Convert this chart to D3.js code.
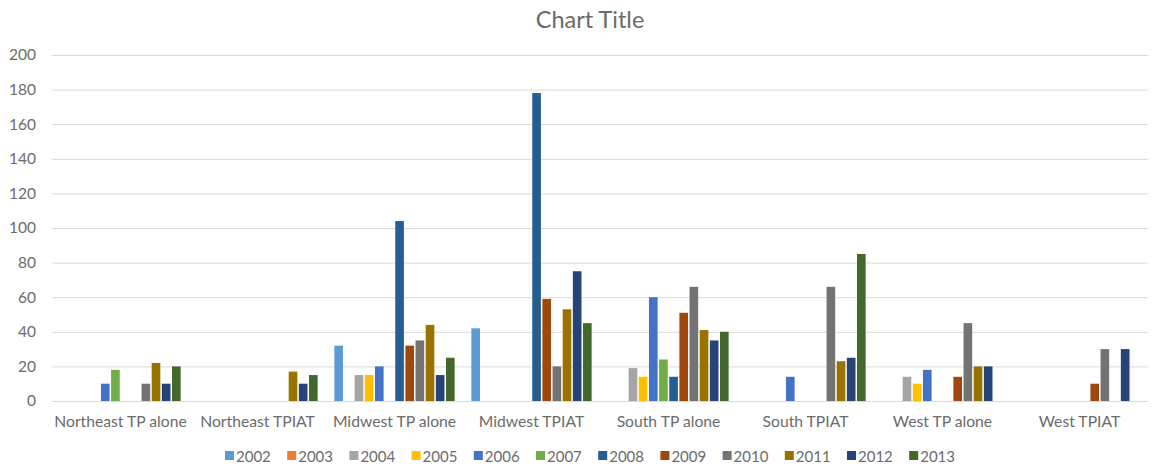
<!DOCTYPE html>
<html>
<head>
<meta charset="utf-8">
<script src="https://cdn.jsdelivr.net/npm/d3@7"></script>
<style>
  html, body { margin: 0; padding: 0; background: #fff; }
  svg { display: block; font-family: Lato, "Open Sans", sans-serif; }
</style>
</head>
<body>
<svg id="chart" width="1160" height="470"></svg>
<script>
// Regions and procedure groups along the x axis
const categories = [
  "Northeast TP alone", "Northeast TPIAT", "Midwest TP alone", "Midwest TPIAT",
  "South TP alone", "South TPIAT", "West TP alone", "West TPIAT"
];

// One series per year (null = no bar)
const years = ["2002","2003","2004","2005","2006","2007","2008","2009","2010","2011","2012","2013"];

const v2002 = [null, null, 32, 42, null, null, null, null];
const v2003 = [null, null, null, null, null, null, null, null];
const v2004 = [null, null, 15, null, 19, null, 14, null];
const v2005 = [null, null, 15, null, 14, null, 10, null];
const v2006 = [10, null, 20, null, 60, 14, 18, null];
const v2007 = [18, null, null, null, 24, null, null, null];
const v2008 = [null, null, 104, 178, 14, null, null, null];
const v2009 = [null, null, 32, 59, 51, null, 14, 10];
const v2010 = [10, null, 35, 20, 66, 66, 45, 30];
const v2011 = [22, 17, 44, 53, 41, 23, 20, null];
const v2012 = [10, 10, 15, 75, 35, 25, 20, 30];
const v2013 = [20, 15, 25, 45, 40, 85, null, null];

const seriesValues = [v2002, v2003, v2004, v2005, v2006, v2007, v2008, v2009, v2010, v2011, v2012, v2013];

const colors = ["#5B9BD5","#ED7D31","#A5A5A5","#FFC000","#4472C4","#70AD47",
                "#255E91","#9E480E","#737373","#997300","#264478","#43682B"];

const yTicks = [0, 20, 40, 60, 80, 100, 120, 140, 160, 180, 200];

const svg = d3.select("#chart");
const margin = { left: 52, right: 12, top: 55, bottom: 69 };
const W = 1160, H = 470;
const textColor = "#6b6b6b";

const x0 = d3.scaleBand()
  .domain(categories)
  .range([margin.left, W - margin.right])
  .paddingInner(0)
  .paddingOuter(0);

// 12 bars per group, gap between groups = 1.5 bar widths
const groupPad = 0.75 / (12 + 1.5);
const x1 = d3.scaleBand()
  .domain(years)
  .range([x0.bandwidth() * groupPad, x0.bandwidth() * (1 - groupPad)])
  .padding(0);

const y = d3.scaleLinear().domain([0, 200]).range([H - margin.bottom, margin.top]);

// Title
svg.append("text")
  .attr("x", 590).attr("y", 28)
  .attr("text-anchor", "middle")
  .attr("fill", textColor)
  .style("font-size", "23.5px")
  .text("Chart Title");

// Gridlines and y labels
const yAxis = d3.axisLeft(y).tickValues(yTicks).tickSize(-(W - margin.left - margin.right)).tickPadding(16);
const gy = svg.append("g")
  .attr("transform", `translate(${margin.left},0)`)
  .call(yAxis);
gy.select(".domain").remove();
gy.selectAll(".tick line").attr("stroke", "#d9d9d9").attr("stroke-width", 1);
gy.selectAll(".tick text")
  .attr("fill", textColor)
  .style("font-size", "15.5px")
  .style("font-family", "Lato, 'Open Sans', sans-serif");

// Bars
const groups = svg.append("g").selectAll("g")
  .data(categories)
  .join("g")
  .attr("transform", d => `translate(${x0(d)},0)`);

groups.selectAll("rect")
  .data((c, ci) => years.map((yr, si) => ({ yr, si, v: seriesValues[si][ci] }))
    .filter(d => d.v !== null && d.v > 0))
  .join("rect")
  .attr("x", d => x1(d.yr) + 0.75)
  .attr("width", x1.bandwidth() - 1.5)
  .attr("y", d => y(d.v))
  .attr("height", d => y(0) - y(d.v))
  .attr("fill", d => colors[d.si]);

// Category axis
const xAxis = d3.axisBottom(x0).tickSize(0).tickPadding(15);
const gx = svg.append("g")
  .attr("transform", `translate(0,${y(0)})`)
  .call(xAxis);
gx.select(".domain").attr("stroke", "#d9d9d9");
gx.selectAll(".tick text")
  .attr("fill", textColor)
  .style("font-size", "15.7px")
  .style("font-family", "Lato, 'Open Sans', sans-serif");

// Legend
const legendStep = 62.2;
const legendStart = 225;
const legend = svg.append("g").attr("transform", `translate(${legendStart},456)`);
const items = legend.selectAll("g")
  .data(years)
  .join("g")
  .attr("transform", (d, i) => `translate(${i * legendStep},0)`);
items.append("rect")
  .attr("x", 0).attr("y", -5)
  .attr("width", 9).attr("height", 9)
  .attr("fill", (d, i) => colors[i]);
items.append("text")
  .attr("x", 11).attr("y", 5.5)
  .attr("fill", textColor)
  .style("font-size", "15px")
  .text(d => d);
</script>
</body>
</html>
